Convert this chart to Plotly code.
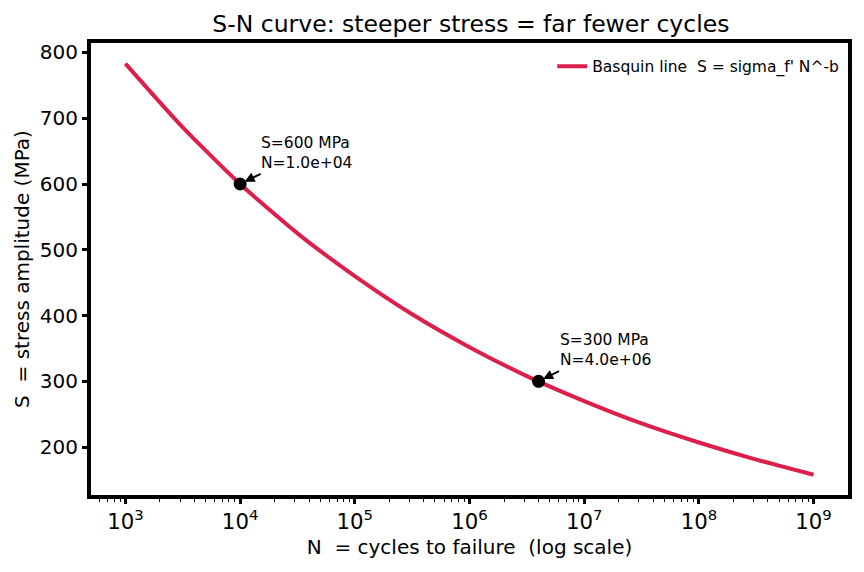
import plotly.graph_objects as go
import numpy as np

# Data
N_curve = [1e3, 10**3.5, 1e4, 10**4.5, 1e5, 10**5.5, 1e6, 10**6.5, 1e7, 10**7.5, 1e8, 10**8.5, 1e9]
S_curve = [783, 686, 600, 525, 460, 402, 352, 308, 270, 236, 207, 181, 158]
N_pts = [1e4, 4e6]
S_pts = [600, 300]
pt_labels = ["S=600 MPa<br>N=1.0e+04", "S=300 MPa<br>N=4.0e+06"]

FONT = "DejaVu Sans"
fig = go.Figure()
fig.add_trace(go.Scatter(x=N_curve, y=S_curve, mode="lines", line=dict(color="#DC1F4B", width=4, shape="spline", smoothing=0.6),
                         name="Basquin line  S = sigma_f' N^-b"))
fig.add_trace(go.Scatter(x=N_pts, y=S_pts, mode="markers", marker=dict(color="black", size=13), showlegend=False))

for n, s, t in zip(N_pts, S_pts, pt_labels):
    fig.add_annotation(x=np.log10(n), y=s, text=t, showarrow=False, xanchor="left", yanchor="bottom",
                       align="left", xshift=19, yshift=10, font=dict(family=FONT, size=15.5, color="black"))
    fig.add_annotation(x=np.log10(n), y=s, text="", showarrow=True, ax=22, ay=-11, arrowhead=2,
                       arrowsize=1, arrowwidth=2, arrowcolor="black", standoff=5)

fig.update_layout(
    width=864, height=572, paper_bgcolor="white", plot_bgcolor="white",
    margin=dict(l=91, r=13, t=43, b=77),
    font=dict(family=FONT, size=20, color="black"),
    title=dict(text="S-N curve: steeper stress = far fewer cycles", x=0.545, xanchor="center", y=0.958, yanchor="middle",
               font=dict(size=23.5)),
    legend=dict(x=0.995, y=0.985, xanchor="right", yanchor="top", bgcolor="rgba(0,0,0,0)", font=dict(size=15.5)),
    showlegend=True,
)
fig.update_xaxes(type="log", range=[2.7, 9.3], dtick=1, exponentformat="power", showgrid=False, zeroline=False,
                 showline=True, linewidth=4, linecolor="black", mirror=True,
                 ticks="outside", ticklen=5, tickwidth=3, tickcolor="black", tickfont=dict(size=17),
                 minor=dict(ticks="outside", ticklen=3, tickwidth=1, tickcolor="black", dtick="D1", showgrid=False),
                 title=dict(text="N  = cycles to failure  (log scale)", font=dict(size=20), standoff=8))
fig.update_yaxes(range=[127.2, 814.4], tickvals=[200, 300, 400, 500, 600, 700, 800], showgrid=False, zeroline=False,
                 showline=True, linewidth=4, linecolor="black", mirror=True,
                 ticks="outside", ticklen=5, tickwidth=3, tickcolor="black",
                 title=dict(text="S  = stress amplitude (MPa)", font=dict(size=20), standoff=6))
fig.write_html("out.html")
